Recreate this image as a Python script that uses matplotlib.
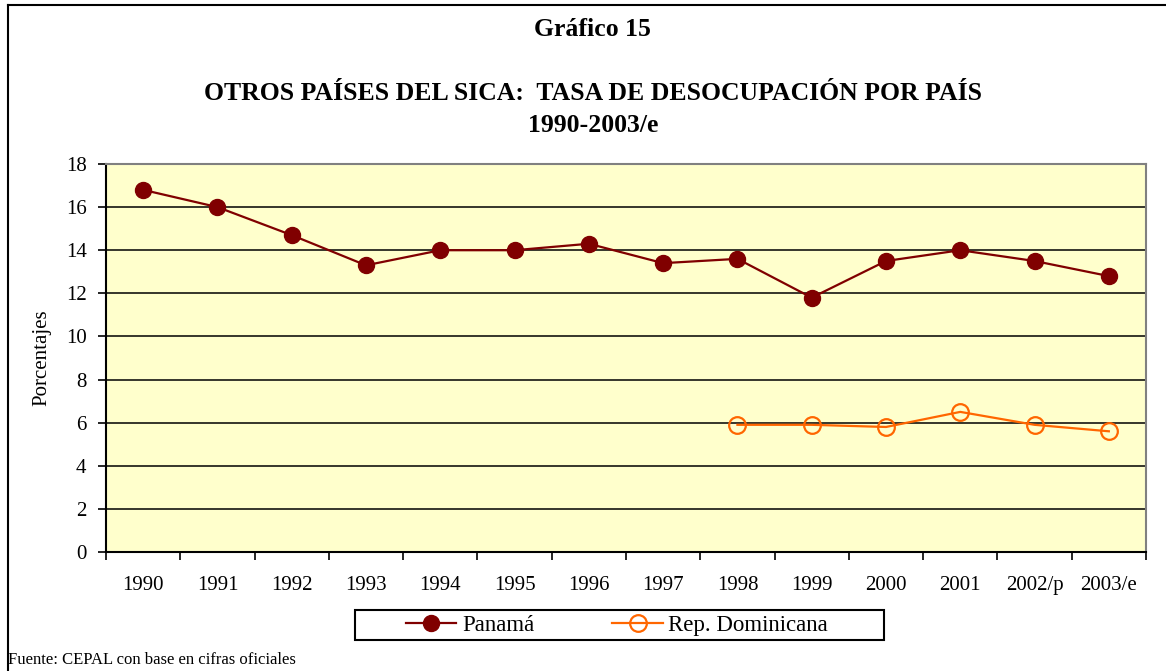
import matplotlib.pyplot as plt
from matplotlib.lines import Line2D
from matplotlib.patches import Rectangle

plt.rcParams['font.family'] = ['Liberation Serif', 'DejaVu Serif']

anios = ["1990", "1991", "1992", "1993", "1994", "1995", "1996", "1997",
         "1998", "1999", "2000", "2001", "2002/p", "2003/e"]
panama = [16.8, 16.0, 14.7, 13.3, 14.0, 14.0, 14.3, 13.4, 13.6, 11.8, 13.5, 14.0, 13.5, 12.8]
rep_dom_anios = ["1998", "1999", "2000", "2001", "2002/p", "2003/e"]
rep_dom = [5.9, 5.9, 5.8, 6.5, 5.9, 5.6]

W, H = 1166, 671
fig = plt.figure(figsize=(W / 100, H / 100), dpi=100)

# Recuadro exterior (arriba e izquierda)
fig.add_artist(Line2D([8 / W, 8 / W], [0, 1 - 5 / H], color="black", lw=1.5))
fig.add_artist(Line2D([8 / W, 1], [1 - 5 / H, 1 - 5 / H], color="black", lw=1.5))

ax = fig.add_axes([106 / W, 1 - 552 / H, (1146 - 106) / W, (552 - 164) / H])
ax.set_facecolor("#FFFFCC")

x = list(range(len(anios)))
x_rd = [anios.index(a) for a in rep_dom_anios]

ax.plot(x, panama, color="#800000", lw=1.6, marker="o", markersize=11.5,
        markerfacecolor="#800000", markeredgecolor="#800000", label="Panamá", zorder=3)
ax.plot(x_rd, rep_dom, color="#FF6600", lw=1.6, marker="o", markersize=12,
        markerfacecolor="none", markeredgecolor="#FF6600", markeredgewidth=1.6,
        label="Rep. Dominicana", zorder=3)

ax.set_xlim(-0.5, len(anios) - 0.5)
ax.set_ylim(0, 18)
ax.set_yticks(range(0, 19, 2))
ax.yaxis.grid(True, color="black", lw=1.1)
ax.set_axisbelow(True)

# Marcas del eje de categorías entre años
ax.set_xticks([i - 0.5 for i in range(len(anios) + 1)])
ax.set_xticklabels([])
ax.set_xticks(x, minor=True)
ax.set_xticklabels(anios, minor=True, fontsize=15)
ax.tick_params(axis="x", which="minor", length=0, pad=17)
ax.tick_params(axis="x", which="major", direction="out", length=6, width=1.2, color="black")
ax.tick_params(axis="y", direction="out", length=6, width=1.2, labelsize=15, pad=8)

for lado in ["top", "right"]:
    ax.spines[lado].set_color("#808080")
    ax.spines[lado].set_linewidth(1.5)
for lado in ["left", "bottom"]:
    ax.spines[lado].set_color("black")
    ax.spines[lado].set_linewidth(1.5)

ax.set_ylabel("Porcentajes", fontsize=15, labelpad=10)

fig.text(592 / W, 1 - 30 / H, "Gráfico 15", ha="center", va="center",
         fontsize=18.5, fontweight="bold")
fig.text(593 / W, 1 - 93 / H, "OTROS PAÍSES DEL SICA:  TASA DE DESOCUPACIÓN POR PAÍS",
         ha="center", va="center", fontsize=18.5, fontweight="bold")
fig.text(593 / W, 1 - 125 / H, "1990-2003/e", ha="center", va="center",
         fontsize=18.5, fontweight="bold")

# Leyenda con recuadro propio
fig.add_artist(Rectangle((355 / W, 1 - 640 / H), 529 / W, 30 / H, transform=fig.transFigure,
                         facecolor="white", edgecolor="black", lw=1.5))
leg = fig.legend(loc="center left", bbox_to_anchor=(406 / W, 1 - 625 / H), ncol=2,
                 fontsize=16.5, frameon=False, borderpad=0, borderaxespad=0,
                 handlelength=2.2, handletextpad=0.25, columnspacing=3.4)

fig.text(8 / W, 1 - 660 / H, "Fuente: CEPAL con base en cifras oficiales",
         ha="left", va="center", fontsize=12)

fig.savefig("out.png", dpi=100)
